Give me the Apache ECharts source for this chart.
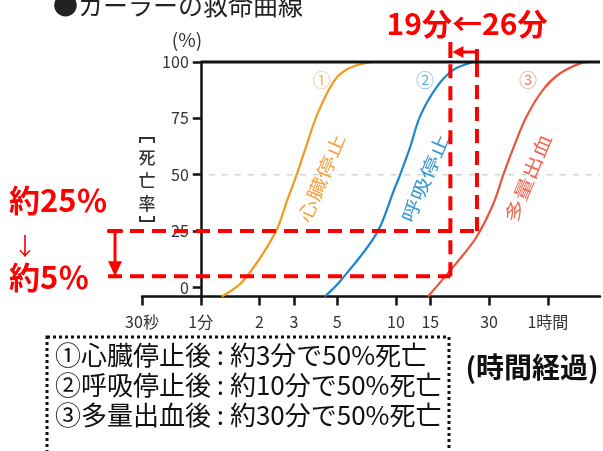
<!DOCTYPE html>
<html>
<head>
<meta charset="utf-8">
<script src="https://cdn.jsdelivr.net/npm/echarts@6/dist/echarts.min.js"></script>
<style>
  html, body { margin: 0; padding: 0; background: #fff; }
  #chart { width: 603px; height: 451px; }
</style>
</head>
<body>
<div id="chart"></div>
<script>
// Time axis (minutes, drawn on a log10 scale)
const xTickMinutes = [0.5, 1, 2, 3, 5, 10, 15, 30, 60];
const xTickLabels = ['30秒', '1分', '2', '3', '5', '10', '15', '30', '1時間'];
const xMinMinutes = 0.5;
const xMaxMinutes = 111;

// Death rate axis (%)
const yTickValues = [0, 25, 50, 75, 100];
const yMin = -4;
const yMax = 100;

// ① cardiac arrest
const cardiacMinutes = [1.28, 1.65, 2.4, 2.78, 3.1, 3.45, 3.92, 4.77, 5.67, 7.5];
const cardiacRate    = [-4, 3, 24, 39, 50, 62, 76, 91, 97, 100];
// ② respiratory arrest
const respMinutes = [4.32, 5.2, 7.96, 9.75, 10.5, 11.8, 13.3, 16.2, 19.7, 24.9];
const respRate    = [-4, 3, 24, 43, 50, 62, 76, 89, 96.5, 100];
// ③ massive bleeding
const bleedMinutes = [14.6, 20.5, 25.9, 31.5, 35.5, 40, 46.8, 57, 69.4, 87.9, 98];
const bleedRate    = [-4, 11, 22.5, 37, 50, 62, 76, 88, 95, 99.4, 100];

const curveNames = ['心臓停止', '呼吸停止', '多量出血'];
const curveMarks = ['①', '②', '③'];
const legendLines = [
  '①心臓停止後 : 約3分で50%死亡',
  '②呼吸停止後 : 約10分で50%死亡',
  '③多量出血後 : 約30分で50%死亡'
];

// Annotation: shortening from 26 min to 19 min, 25% down to 5%
const shiftFromMinutes = 26;
const shiftToMinutes = 19;
const rateFrom = 25;
const rateTo = 5;

const FONT = '"Noto Sans CJK JP", "Noto Sans", sans-serif';
const RED = '#ff0000';
const lineColors = ['#f29b1f', '#1c86cf', '#e8553d'];
const textColors = ['#f3a444', '#3b97d3', '#ea6a55'];
const markColors = ['#f5b66a', '#6fb2e0', '#ee8d7e'];

const lg = Math.log10;
function pairs(mins, rates) {
  return mins.map((m, i) => [lg(m), rates[i]]);
}

const chart = echarts.init(document.getElementById('chart'), null, { renderer: 'canvas' });

const curves = [
  pairs(cardiacMinutes, cardiacRate),
  pairs(respMinutes, respRate),
  pairs(bleedMinutes, bleedRate)
];

function yAxisOption(offset) {
  return {
    type: 'value',
    min: yMin,
    max: yMax,
    offset: offset,
    axisLine: { show: true, onZero: false, lineStyle: { color: '#111', width: 2.5 } },
    axisTick: {
      show: true,
      customValues: yTickValues,
      length: 8,
      lineStyle: { color: '#111', width: 2.5 }
    },
    axisLabel: {
      customValues: yTickValues,
      margin: 12,
      fontSize: 16,
      color: '#333',
      fontFamily: FONT
    },
    splitLine: { show: false }
  };
}

chart.setOption({
  animation: false,
  backgroundColor: '#fff',
  grid: { left: 142, right: 3, top: 62, bottom: 154.5 },
  xAxis: {
    type: 'value',
    min: lg(xMinMinutes),
    max: lg(xMaxMinutes),
    axisLine: { onZero: false, lineStyle: { color: '#111', width: 2.5 } },
    axisTick: {
      customValues: xTickMinutes.map(lg),
      length: 9,
      lineStyle: { color: '#111', width: 2.5 }
    },
    axisLabel: {
      customValues: xTickMinutes.map(lg),
      margin: 17,
      fontSize: 16,
      color: '#333',
      fontFamily: FONT,
      formatter: function (v) {
        const i = xTickMinutes.findIndex(m => Math.abs(lg(m) - v) < 1e-6);
        return i >= 0 ? xTickLabels[i] : '';
      }
    },
    splitLine: { show: false }
  },
  yAxis: yAxisOption(0),
  series: curves.map((data, i) => ({
    type: 'line',
    name: curveNames[i],
    data: data,
    smooth: 0.35,
    showSymbol: false,
    lineStyle: { color: lineColors[i], width: 2.2 },
    z: 3
  }))
});

// Move the rate axis so it stands at the 1-minute mark
const xAtOneMinute = chart.convertToPixel({ xAxisIndex: 0 }, lg(1));
const xAtStart = chart.convertToPixel({ xAxisIndex: 0 }, lg(xMinMinutes));
chart.setOption({ yAxis: yAxisOption(-(xAtOneMinute - xAtStart)) });

// Decorations placed through the axes' own scales
function px(minutes, rate) {
  return chart.convertToPixel({ xAxisIndex: 0, yAxisIndex: 0 }, [lg(minutes), rate]);
}

const right = chart.getWidth() - 3;
const g = [];

// top border at 100%, starting from the y axis
const top0 = px(1, 100);
g.push({ type: 'line', shape: { x1: top0[0], y1: top0[1], x2: right, y2: top0[1] },
  style: { stroke: '#111', lineWidth: 3 }, z: 10 });

// light dashed 50% guide
const mid = px(1, 50);
g.push({ type: 'line', shape: { x1: mid[0] + 8, y1: mid[1], x2: right, y2: mid[1] },
  style: { stroke: '#d4d4d4', lineWidth: 1.5, lineDash: [6, 7] }, z: 1 });

// circled numbers and rotated curve names
const labelMinutes = [4.15, 14.1, 47.5];
labelMinutes.forEach((m, i) => {
  const pm = px(m, 92);
  g.push({ type: 'text', x: pm[0], y: pm[1],
    style: { text: curveMarks[i], font: '18px ' + FONT, fill: markColors[i], align: 'center', verticalAlign: 'middle' }, z: 5 });
  const pt = px(m, 48.5);
  g.push({ type: 'text', x: pt[0], y: pt[1], rotation: 67 * Math.PI / 180, scaleX: 1.3,
    style: { text: curveNames[i], font: '18px ' + FONT, fill: textColors[i], align: 'center', verticalAlign: 'middle' }, z: 5 });
});

// red dashed guides
const dash = { stroke: RED, lineWidth: 4, lineDash: [14, 8] };
const pFrom = px(shiftFromMinutes, rateFrom);
const pTo = px(shiftToMinutes, rateTo);
const pTopFrom = px(shiftFromMinutes, 100);
const pTopTo = px(shiftToMinutes, 100);
g.push({ type: 'line', shape: { x1: 108, y1: pFrom[1], x2: pFrom[0], y2: pFrom[1] }, style: dash, z: 8 });
g.push({ type: 'line', shape: { x1: 108, y1: pTo[1], x2: pTo[0], y2: pTo[1] }, style: dash, z: 8 });
g.push({ type: 'line', shape: { x1: pFrom[0], y1: pFrom[1], x2: pFrom[0], y2: pTopFrom[1] + 2 }, style: dash, z: 8 });
g.push({ type: 'line', shape: { x1: pTo[0], y1: pTo[1], x2: pTo[0], y2: pTopTo[1] + 2 }, style: dash, z: 8 });

// bracket arrow above the plot: 26分 → 19分
const solid = { stroke: RED, lineWidth: 4 };
g.push({ type: 'line', shape: { x1: pTopTo[0], y1: 42, x2: pTopTo[0], y2: 58 }, style: solid, z: 8 });
g.push({ type: 'line', shape: { x1: pTopFrom[0], y1: 49, x2: pTopFrom[0], y2: 66 }, style: solid, z: 8 });
g.push({ type: 'line', shape: { x1: pTopFrom[0], y1: 52, x2: pTopTo[0] + 10, y2: 52 }, style: { stroke: RED, lineWidth: 3 }, z: 8 });
g.push({ type: 'polygon', shape: { points: [[pTopTo[0] + 2, 52], [pTopTo[0] + 13, 46], [pTopTo[0] + 13, 58]] }, style: { fill: RED }, z: 8 });

// rate arrow on the left: 25% → 5%
const ax = 115;
g.push({ type: 'line', shape: { x1: ax - 8, y1: pFrom[1], x2: ax + 8, y2: pFrom[1] }, style: { stroke: RED, lineWidth: 3 }, z: 8 });
g.push({ type: 'line', shape: { x1: ax, y1: pFrom[1], x2: ax, y2: pTo[1] - 12 }, style: { stroke: RED, lineWidth: 3 }, z: 8 });
g.push({ type: 'polygon', shape: { points: [[ax - 7, pTo[1] - 15], [ax + 7, pTo[1] - 15], [ax, pTo[1]]] }, style: { fill: RED }, z: 8 });

// red captions
g.push({ type: 'text', x: 467, y: 24,
  style: { text: '19分←26分', font: 'bold 30px ' + FONT, fill: RED, align: 'center', verticalAlign: 'middle' }, z: 9 });
g.push({ type: 'text', x: 9, y: 200,
  style: { text: '約' + rateFrom + '％', font: 'bold 31px ' + FONT, fill: RED, align: 'left', verticalAlign: 'middle' }, z: 9 });
g.push({ type: 'text', x: 25, y: 246,
  style: { text: '↓', font: '24px ' + FONT, fill: RED, align: 'center', verticalAlign: 'middle' }, z: 9 });
g.push({ type: 'text', x: 9, y: 277,
  style: { text: '約' + rateTo + '％', font: 'bold 31px ' + FONT, fill: RED, align: 'left', verticalAlign: 'middle' }, z: 9 });

// title and axis names
g.push({ type: 'text', x: 53, y: 5,
  style: { text: '●カーラーの救命曲線', font: '25px ' + FONT, fill: '#222', align: 'left', verticalAlign: 'middle' }, z: 9 });
g.push({ type: 'text', x: 187, y: 40,
  style: { text: '(%)', font: '19px ' + FONT, fill: '#333', align: 'center', verticalAlign: 'middle' }, z: 9 });
g.push({ type: 'text', x: 147, y: 181,
  style: { text: '死\n亡\n率', font: '500 17px ' + FONT, lineHeight: 23, fill: '#333', align: 'center', verticalAlign: 'middle' }, z: 9 });
const bracket = { stroke: '#333', lineWidth: 2, fill: 'none' };
g.push({ type: 'polyline', shape: { points: [[140, 143], [140, 138], [154, 138], [154, 143]] }, style: bracket, z: 9 });
g.push({ type: 'polyline', shape: { points: [[140, 216], [140, 221], [154, 221], [154, 216]] }, style: bracket, z: 9 });
g.push({ type: 'text', x: 532, y: 367,
  style: { text: '(時間経過)', font: 'bold 28px ' + FONT, fill: '#111', align: 'center', verticalAlign: 'middle' }, z: 9 });

// dotted box with the summary
g.push({ type: 'rect', shape: { x: 47, y: 337, width: 402, height: 130 },
  style: { fill: 'none', stroke: '#111', lineWidth: 3, lineDash: [3, 3] }, z: 9 });
legendLines.forEach((t, i) => {
  g.push({ type: 'text', x: 55, y: 355 + i * 30,
    style: { text: t, font: '26px ' + FONT, fill: '#111', align: 'left', verticalAlign: 'middle' }, z: 9 });
});

chart.setOption({ graphic: { elements: g } });
</script>
</body>
</html>
